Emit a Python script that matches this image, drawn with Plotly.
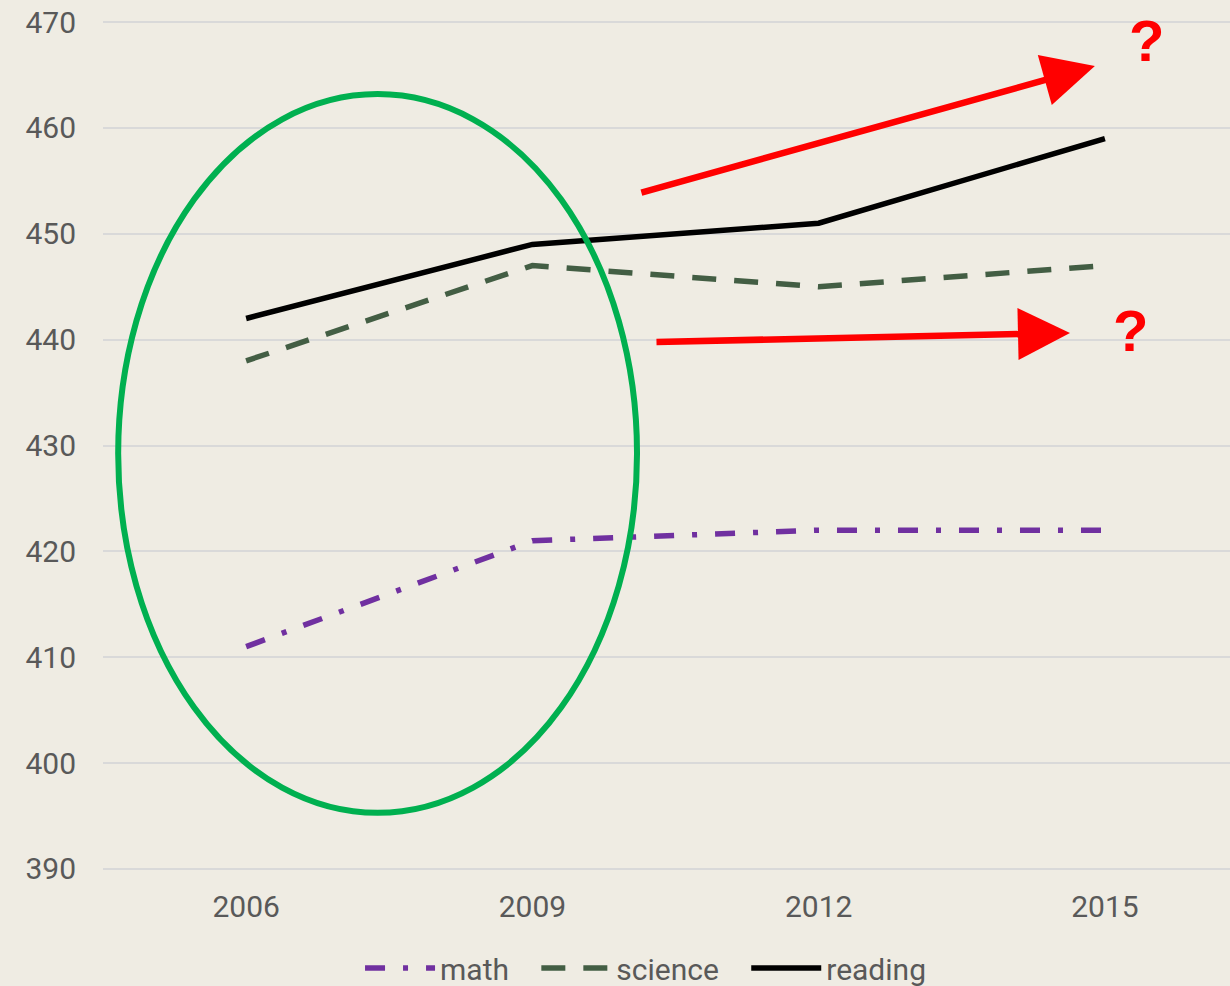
import plotly.graph_objects as go

# PISA-style scores by survey year
years = ["2006", "2009", "2012", "2015"]
math = [411, 421, 422, 422]
science = [438, 447, 445, 447]
reading = [442, 449, 451, 459]
y_ticks = [390, 400, 410, 420, 430, 440, 450, 460, 470]

xpos = list(range(len(years)))
BG = "#EFECE3"
TXT = "#595959"
FONT = "Roboto, Lato, Arial, sans-serif"
PAD = "\u00a0" * 3  # extra room between legend entries

fig = go.Figure()
fig.add_trace(go.Scatter(x=xpos, y=math, name="math" + PAD, mode="lines",
                         line=dict(color="#7030A0", width=5.5, dash="20px,18px,5px,18px")))
fig.add_trace(go.Scatter(x=xpos, y=science, name="science" + PAD, mode="lines",
                         line=dict(color="#435E44", width=5.5, dash="24px,18px")))
fig.add_trace(go.Scatter(x=xpos, y=reading, name="reading", mode="lines",
                         line=dict(color="#000000", width=5.5)))

# highlight ellipse around the 2006-2009 change
fig.add_shape(type="circle", xref="x", yref="y",
              x0=-0.447, x1=1.3655, y0=395.3, y1=463.2,
              line=dict(color="#00B050", width=6), fillcolor="rgba(0,0,0,0)")

# red trend arrows with question marks
fig.add_annotation(x=2.965, y=465.85, xref="x", yref="y", ax=-455, ay=127,
                   showarrow=True, arrowhead=2, arrowwidth=6.5, arrowsize=1.6,
                   arrowcolor="#FF0000", text="")
fig.add_annotation(x=2.878, y=440.63, xref="x", yref="y", ax=-415, ay=9,
                   showarrow=True, arrowhead=2, arrowwidth=6.5, arrowsize=1.6,
                   arrowcolor="#FF0000", text="")
fig.add_annotation(x=3.145, y=468.3, xref="x", yref="y", text="<b>?</b>",
                   showarrow=False, font=dict(size=58, color="#FF0000",
                                              family="Liberation Sans, Arial, sans-serif"))
fig.add_annotation(x=3.09, y=440.9, xref="x", yref="y", text="<b>?</b>",
                   showarrow=False, font=dict(size=58, color="#FF0000",
                                              family="Liberation Sans, Arial, sans-serif"))

fig.update_layout(
    width=1230, height=986,
    margin=dict(l=103, r=0, t=20, b=115, autoexpand=False),
    paper_bgcolor=BG, plot_bgcolor=BG,
    font=dict(family=FONT, size=30, color=TXT),
    showlegend=True,
    legend=dict(orientation="h", x=0.4814, xanchor="center", y=-0.114, yanchor="middle",
                font=dict(size=30, color=TXT), itemwidth=70, bgcolor="rgba(0,0,0,0)"),
    xaxis=dict(range=[-0.5, 3.437], tickmode="array", tickvals=xpos, ticktext=years,
               showgrid=False, zeroline=False, showline=False, ticks="",
               ticklabelstandoff=15, automargin=False),
    yaxis=dict(range=[389.8, 470.2], tickmode="array", tickvals=y_ticks,
               showgrid=True, gridcolor="#D9D9D9", gridwidth=2, zeroline=False,
               showline=False, ticks="", ticklabelstandoff=26, automargin=False),
)

fig.write_html("out.html")
